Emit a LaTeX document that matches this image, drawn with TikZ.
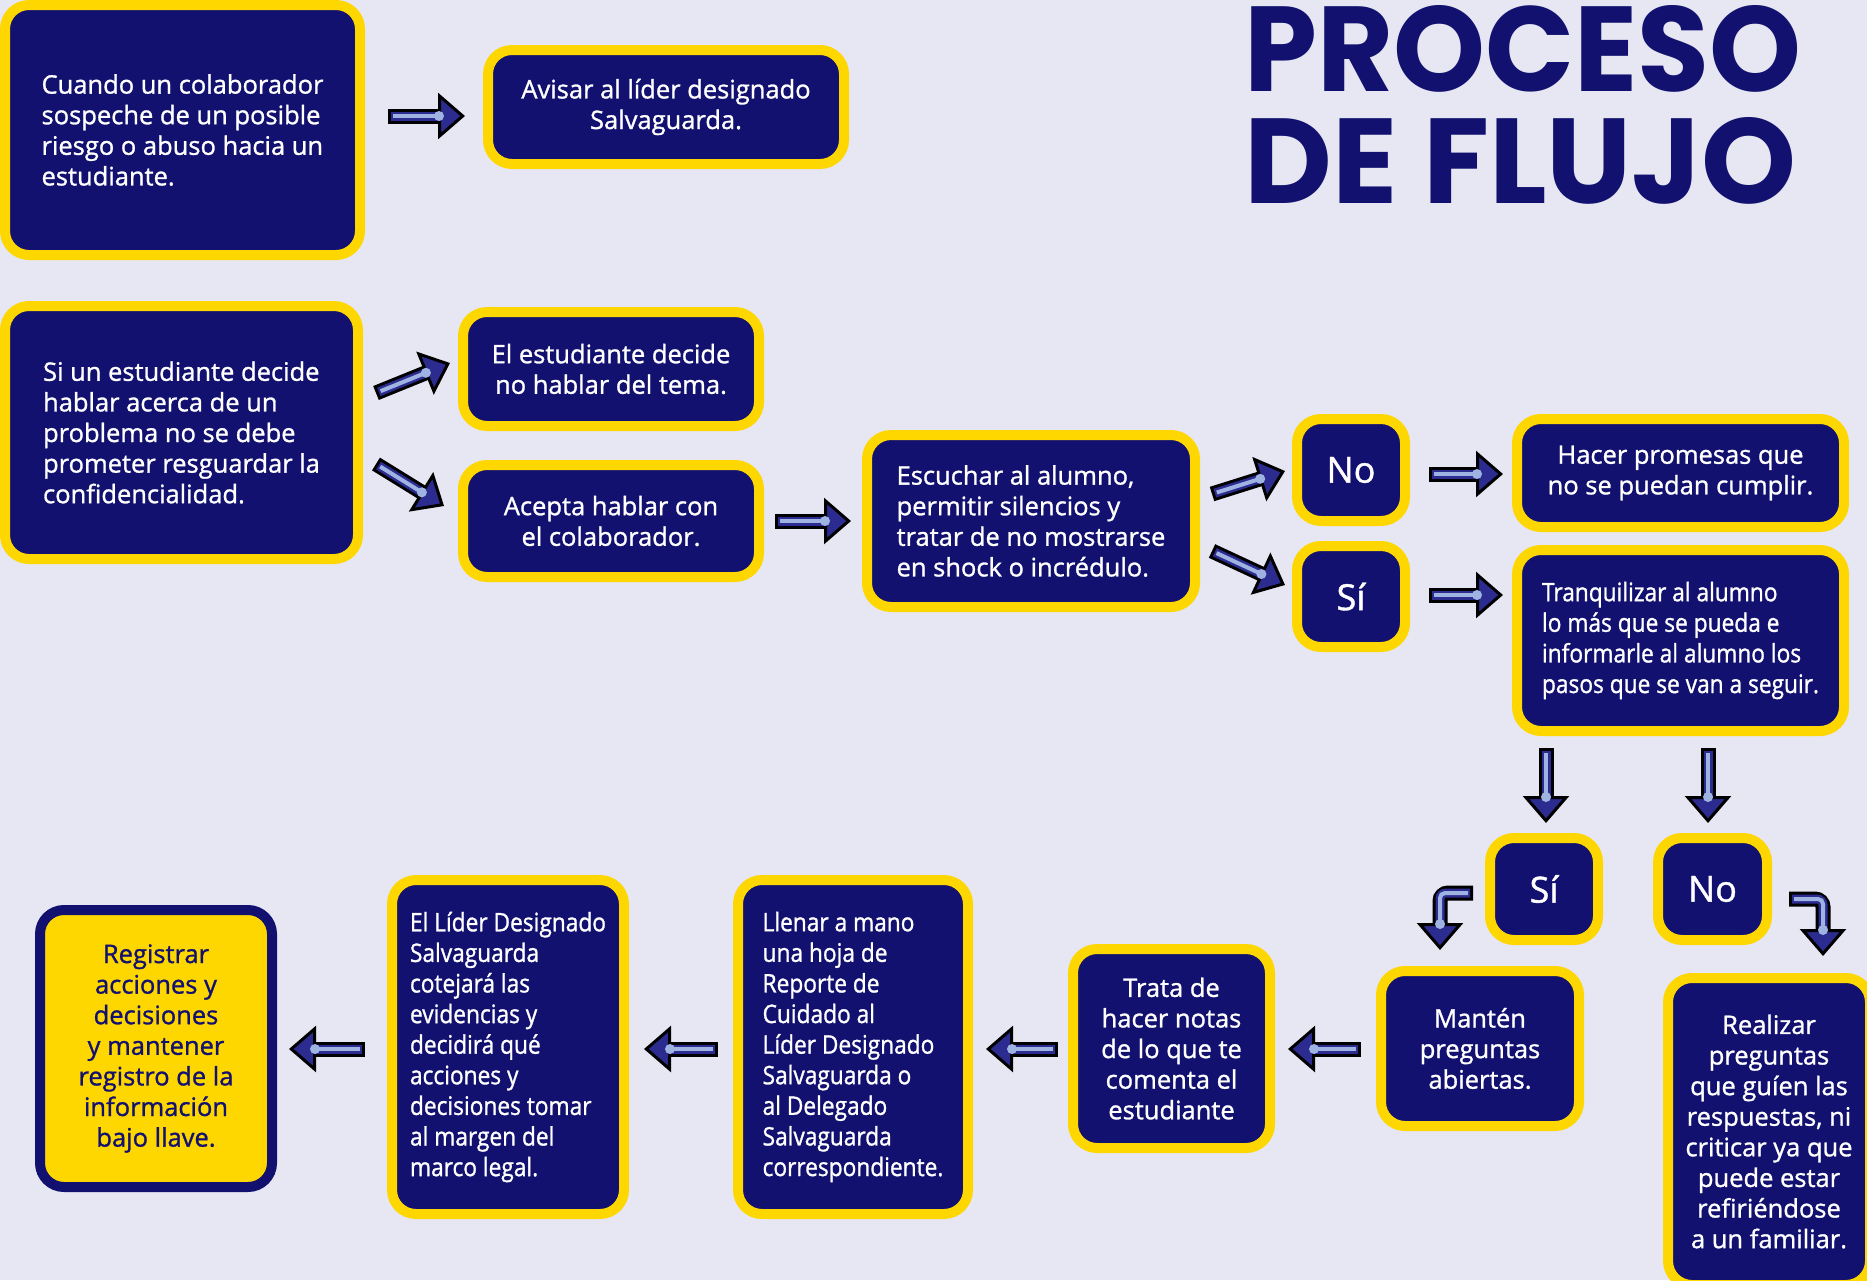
\documentclass[tikz,border=0pt]{standalone}
\usepackage{fontspec}
\setmainfont{Open Sans}[FakeBold=1.1]
\newfontfamily\condfont{Open Sans}[FakeStretch=0.89,FakeBold=1.1]
\newfontfamily\titlefont{Poppins}
\usetikzlibrary{arrows.meta,calc}
\definecolor{fbg}{HTML}{E6E7F2}
\definecolor{fnavy}{HTML}{12116F}
\definecolor{fyellow}{HTML}{FFD700}
\definecolor{fblue}{HTML}{2C2C90}
\definecolor{flight}{HTML}{9FB3E3}
\tikzset{
  box/.style={draw=fyellow, line width=10pt, fill=fnavy, rounded corners=24pt,
    text=white, font=\fontsize{25.5}{30.6}\selectfont, inner sep=0pt},
  ynbox/.style={box, font=\fontsize{36}{40}\selectfont},
  condbox/.style={box, font=\condfont\fontsize{25.5}{30.6}\selectfont},
  headtip/.style={-{Triangle[length=27pt,width=46pt,line width=3pt,fill=fblue]}}
}
\newcommand\farrow[2]{%
  \draw[line width=15pt, black, headtip] (#1) -- (#2);
  \draw[line width=9pt, fblue, shorten <=3pt, shorten >=24pt] (#1) -- (#2);
  \draw[line width=4pt, flight, shorten <=5pt, shorten >=26pt] (#1) -- (#2);
  \fill[flight] ($(#2)!26pt!(#1)$) circle (5pt);
}
\newcommand\felbow[3]{%
  \draw[line width=15pt, black, rounded corners=8pt, headtip] (#1) -- (#2) -- (#3);
  \draw[line width=9pt, fblue, rounded corners=6pt, shorten <=3pt, shorten >=24pt] (#1) -- (#2) -- (#3);
  \draw[line width=4pt, flight, rounded corners=5pt, shorten <=5pt, shorten >=26pt] (#1) -- (#2) -- (#3);
  \fill[flight] ($(#3)!26pt!(#2)$) circle (5pt);
}
\begin{document}
\begin{tikzpicture}[x=1pt,y=-1pt]
\useasboundingbox (0,0) rectangle (1867,1280);
\fill[fbg] (0,0) rectangle (1867,1280);

% title
\node[anchor=base west, inner sep=0pt, text=fnavy] (t1) at (1244,91)
  {\resizebox{557pt}{86pt}{\titlefont\bfseries PROCESO}};
\node[anchor=base west, inner sep=0pt, text=fnavy] (t2) at (1244,203)
  {\resizebox{552pt}{86pt}{\titlefont\bfseries DE FLUJO}};

% boxes
\node[box, minimum width=355pt, minimum height=250pt, align=left] (a) at (182.5,130)
  {Cuando un colaborador\\sospeche de un posible\\riesgo o abuso hacia un\\estudiante.};
\node[box, minimum width=356pt, minimum height=114pt, align=center] (b) at (666,107)
  {Avisar al líder designado\\Salvaguarda.};
\node[box, minimum width=353pt, minimum height=253pt, align=left] (c) at (181.5,432.5)
  {Si un estudiante decide\\hablar acerca de un\\problema no se debe\\prometer resguardar la\\confidencialidad.};
\node[box, minimum width=296pt, minimum height=114pt, align=center] (d) at (611,369)
  {El estudiante decide\\no hablar del tema.};
\node[box, minimum width=296pt, minimum height=112pt, align=center] (e) at (611,521)
  {Acepta hablar con\\el colaborador.};
\node[box, minimum width=328pt, minimum height=172pt, align=left] (f) at (1031,521)
  {Escuchar al alumno,\\permitir silencios y\\tratar de no mostrarse\\en shock o incrédulo.};
\node[ynbox, minimum width=108pt, minimum height=102pt] (no1) at (1351,470) {No};
\node[ynbox, minimum width=108pt, minimum height=101pt] (si1) at (1351,596.5) {Sí};
\node[box, minimum width=327pt, minimum height=108pt, align=center] (g) at (1680.5,473)
  {Hacer promesas que\\no se puedan cumplir.};
\node[condbox, minimum width=327pt, minimum height=181pt, align=left] (h) at (1680.5,640.5)
  {Tranquilizar al alumno\\lo más que se pueda e\\informarle al alumno los\\pasos que se van a seguir.};
\node[ynbox, minimum width=108pt, minimum height=102pt] (si2) at (1544,889) {Sí};
\node[ynbox, minimum width=109pt, minimum height=102pt] (no2) at (1712.5,889) {No};
\node[box, minimum width=198pt, minimum height=155pt, align=center] (i) at (1480,1048.5)
  {Mantén\\preguntas\\abiertas.};
\node[box, minimum width=202pt, minimum height=307pt, align=center] (j) at (1769,1131.5)
  {Realizar\\preguntas\\que guíen las\\respuestas, ni\\criticar ya que\\puede estar\\refiriéndose\\a un familiar.};
\node[box, minimum width=197pt, minimum height=199pt, align=center] (k) at (1171.5,1048.5)
  {Trata de\\hacer notas\\de lo que te\\comenta el\\estudiante};
\node[condbox, minimum width=230pt, minimum height=334pt, align=left] (l) at (853,1047)
  {Llenar a mano\\una hoja de\\Reporte de\\Cuidado al\\Líder Designado\\Salvaguarda o\\al Delegado\\Salvaguarda\\correspondiente.};
\node[condbox, minimum width=232pt, minimum height=334pt, align=left] (m) at (508,1047)
  {El Líder Designado\\Salvaguarda\\cotejará las\\evidencias y\\decidirá qué\\acciones y\\decisiones tomar\\al margen del\\marco legal.};
\node[box, draw=fnavy, fill=fyellow, text=fnavy, minimum width=232pt, minimum height=277pt, align=center] (n) at (156,1048.5)
  {Registrar\\acciones y\\decisiones\\y mantener\\registro de la\\información\\bajo llave.};

% arrow end points
\coordinate (p1s) at (388,116);   \coordinate (p1e) at (465,116);
\coordinate (p2s) at (376,393);   \coordinate (p2e) at (450,363);
\coordinate (p3s) at (376,464);   \coordinate (p3e) at (444,506);
\coordinate (p4s) at (775,521);   \coordinate (p4e) at (851,521);
\coordinate (p5s) at (1212,494);  \coordinate (p5e) at (1285,471);
\coordinate (p6s) at (1212,551);  \coordinate (p6e) at (1285,585);
\coordinate (p7s) at (1429,474);  \coordinate (p7e) at (1503,474);
\coordinate (p8s) at (1429,595);  \coordinate (p8e) at (1503,595);
\coordinate (p9s) at (1546,748);  \coordinate (p9e) at (1546,823);
\coordinate (p10s) at (1708,748); \coordinate (p10e) at (1708,823);
\coordinate (p11s) at (1473,893); \coordinate (p11c) at (1440,893); \coordinate (p11e) at (1440,950);
\coordinate (p12s) at (1789,899); \coordinate (p12c) at (1823,899); \coordinate (p12e) at (1823,956);
\coordinate (p13s) at (1361,1049); \coordinate (p13e) at (1288,1049);
\coordinate (p14s) at (1058,1049); \coordinate (p14e) at (986,1049);
\coordinate (p15s) at (718,1049);  \coordinate (p15e) at (644,1049);
\coordinate (p16s) at (365,1049);  \coordinate (p16e) at (289,1049);

\farrow{p1s}{p1e}
\farrow{p2s}{p2e}
\farrow{p3s}{p3e}
\farrow{p4s}{p4e}
\farrow{p5s}{p5e}
\farrow{p6s}{p6e}
\farrow{p7s}{p7e}
\farrow{p8s}{p8e}
\farrow{p9s}{p9e}
\farrow{p10s}{p10e}
\felbow{p11s}{p11c}{p11e}
\felbow{p12s}{p12c}{p12e}
\farrow{p13s}{p13e}
\farrow{p14s}{p14e}
\farrow{p15s}{p15e}
\farrow{p16s}{p16e}
\end{tikzpicture}
\end{document}
